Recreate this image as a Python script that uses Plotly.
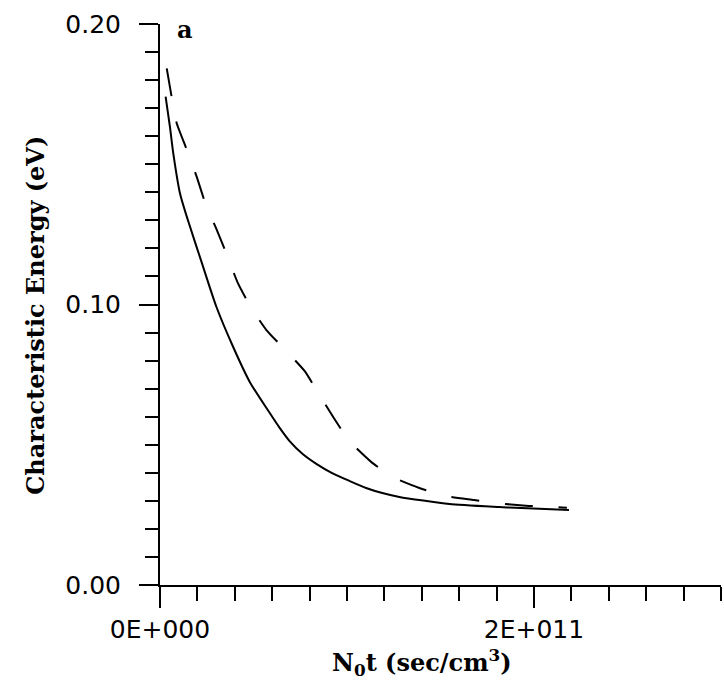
import plotly.graph_objects as go

# Solid curve
solid_x = [0.30e10, 0.53e10, 0.71e10, 1.07e10, 1.49e10, 2.22e10, 3.02e10, 3.89e10, 4.80e10,
           5.87e10, 6.40e10, 6.93e10, 7.63e10, 8.36e10, 9.23e10, 10.13e10, 11.02e10,
           11.89e10, 12.80e10, 15.47e10, 18.13e10, 19.00e10, 21.87e10]
solid_y = [0.1741, 0.1634, 0.1539, 0.1396, 0.1301, 0.1152, 0.0991, 0.0852, 0.0724,
           0.0613, 0.0560, 0.0513, 0.0467, 0.0432, 0.0398, 0.0371, 0.0346,
           0.0328, 0.0314, 0.0289, 0.0278, 0.0275, 0.0267]

# Dashed curve
dash_x = [0.36e10, 0.62e10, 0.89e10, 1.42e10, 1.96e10, 2.44e10, 3.02e10, 3.56e10, 4.16e10,
          4.85e10, 5.69e10, 6.67e10, 7.73e10, 8.53e10, 9.33e10, 10.13e10, 11.29e10,
          12.41e10, 13.87e10, 15.25e10, 16.80e10, 18.13e10, 19.73e10, 21.23e10, 21.76e10]
dash_y = [0.1842, 0.1741, 0.1647, 0.1554, 0.1456, 0.1358, 0.1269, 0.1180, 0.1077,
          0.0991, 0.0909, 0.0840, 0.0763, 0.0677, 0.0592, 0.0513, 0.0439,
          0.0386, 0.0346, 0.0317, 0.0303, 0.0291, 0.0282, 0.0278, 0.0275]

x_tickvals = [0, 2e11]
x_ticktext = ["0E+000", "2E+011"]
y_tickvals = [0.0, 0.1, 0.2]
y_ticktext = ["0.00", "0.10", "0.20"]

fig = go.Figure()
fig.add_trace(go.Scatter(x=solid_x, y=solid_y, mode="lines",
                         line=dict(color="black", width=2, shape="spline", smoothing=0.6),
                         showlegend=False, hoverinfo="skip"))
fig.add_trace(go.Scatter(x=dash_x, y=dash_y, mode="lines",
                         line=dict(color="black", width=2, dash="28px,26px",
                                   shape="spline", smoothing=0.5),
                         showlegend=False, hoverinfo="skip"))

tickfont = dict(family="DejaVu Sans", size=25, color="black")
titlefont = dict(family="DejaVu Serif", size=24, color="black", weight="bold")
fig.update_layout(
    width=724, height=691,
    margin=dict(l=160, r=3, t=24, b=106),
    paper_bgcolor="white", plot_bgcolor="white",
    xaxis=dict(range=[0, 3e11], tickvals=x_tickvals, ticktext=x_ticktext,
               ticks="outside", ticklen=21, tickwidth=2, tickcolor="black",
               minor=dict(dtick=2e10, tick0=0, ticks="outside", ticklen=14,
                          tickwidth=2, tickcolor="black", showgrid=False),
               showline=True, linecolor="black", linewidth=2,
               showgrid=False, zeroline=False, tickfont=tickfont,
               ticklabelstandoff=0),
    yaxis=dict(range=[0, 0.2], tickvals=y_tickvals, ticktext=y_ticktext,
               ticks="outside", ticklen=19, tickwidth=2, tickcolor="black",
               minor=dict(dtick=0.01, tick0=0, ticks="outside", ticklen=13,
                          tickwidth=2, tickcolor="black", showgrid=False),
               showline=True, linecolor="black", linewidth=2,
               showgrid=False, zeroline=False, tickfont=tickfont,
               ticklabelstandoff=13),
    annotations=[
        dict(text="N<sub>0</sub>t (sec/cm<sup>3</sup>)", xref="paper", yref="paper",
             x=0.467, y=-0.139, showarrow=False, xanchor="center", yanchor="middle",
             font=titlefont),
        dict(text="Characteristic Energy (eV)", xref="paper", yref="paper",
             x=-0.221, y=0.48, showarrow=False, textangle=-90,
             xanchor="center", yanchor="middle",
             font=titlefont),
        dict(text="a", xref="paper", yref="paper", x=0.045, y=0.99,
             showarrow=False, xanchor="center", yanchor="middle",
             font=dict(family="DejaVu Serif", size=24, color="black", weight="bold")),
    ],
)

fig.write_html("out.html")
